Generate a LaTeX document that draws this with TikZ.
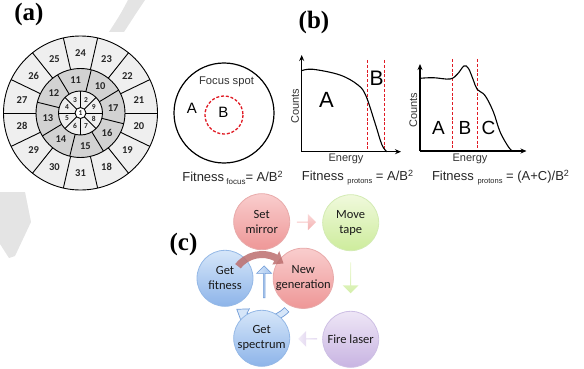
\documentclass[tikz,border=0pt]{standalone}
\usepackage{fontspec}
\setmainfont{Liberation Sans}
\newfontfamily\tnr{Liberation Serif}
\newfontfamily\calib{Carlito}
\usetikzlibrary{calc,arrows.meta,shapes.arrows}
\definecolor{wm}{HTML}{E4E4E4}
\definecolor{wlight}{HTML}{EFEFEF}
\definecolor{wdark}{HTML}{D2D2D2}
\definecolor{rdc}{HTML}{E01B24}
\definecolor{pinkT}{HTML}{F9CDCD}
\definecolor{pinkB}{HTML}{EE9797}
\definecolor{pinkD}{HTML}{E8AAAA}
\definecolor{grnT}{HTML}{F0F9DC}
\definecolor{grnB}{HTML}{CDEC9C}
\definecolor{grnD}{HTML}{D3EBB3}
\definecolor{purT}{HTML}{EEE6F6}
\definecolor{purB}{HTML}{C8B4E2}
\definecolor{purD}{HTML}{CDBFE4}
\definecolor{bluT}{HTML}{D6E6F9}
\definecolor{bluB}{HTML}{8DB4E9}
\definecolor{bluD}{HTML}{94B8E6}
\definecolor{bluO}{HTML}{6E9AD6}
\definecolor{redarc}{HTML}{BC6E6E}
\begin{document}
\begin{tikzpicture}[x=1pt,y=-1pt,
  wline/.style={line width=0.9pt, black},
  wnum/.style={font=\calib\bfseries\fontsize{10.5}{10.5}\selectfont, inner sep=0pt, text=black!85},
  wsm/.style={font=\calib\bfseries\fontsize{7.5}{7.5}\selectfont, inner sep=0pt, text=black!85},
  plabel/.style={font=\tnr\bfseries\fontsize{25}{25}\selectfont, inner sep=0pt},
  axisline/.style={line width=1.2pt, -{Stealth[length=6pt,width=5pt]}},
  crv/.style={line width=1.1pt},
  rdash/.style={draw=rdc, line width=1.3pt, dash pattern=on 3pt off 1.8pt},
  axlab/.style={font=\fontsize{11}{11}\selectfont, inner sep=0pt, text=black!80},
  bigl/.style={font=\fontsize{22}{22}\selectfont, inner sep=0pt},
  midl/.style={font=\fontsize{15}{15}\selectfont, inner sep=0pt},
  fitl/.style={font=\fontsize{13}{13}\selectfont, inner sep=0pt, text=black!85},
  cc/.style={circle, minimum size=56pt, inner sep=0pt, align=center, font=\calib\fontsize{12.5}{15}\selectfont, text=black!90, line width=0.8pt},
  pinkc/.style={cc, draw=pinkD, top color=pinkT, bottom color=pinkB},
  grnc/.style={cc, draw=grnD, top color=grnT, bottom color=grnB},
  purc/.style={cc, draw=purD, top color=purT, bottom color=purB},
  bluc/.style={cc, draw=bluD, top color=bluT, bottom color=bluB},
  blk/.style={single arrow, inner sep=0pt, single arrow head extend=3pt, minimum width=16pt}
]
\useasboundingbox (0,0) rectangle (584,369);
% watermark
\fill[wm] (128,0) -- (145,0) .. controls (137,12) .. (124,32) -- (109,32) .. controls (120,15) .. (128,0) -- cycle;
\fill[wm] (0,192) -- (25,192) -- (31,222) -- (15,256) -- (9,258) -- (0,244) -- cycle;

% ---------- (a)
\node[plabel] (la) at (29,14) {(a)};
\coordinate (W) at (80.5,113);
\fill[wlight] (W) circle[radius=77];
\fill[wdark] (W) circle[radius=44.5];
\fill[wlight] (W) circle[radius=22];
\foreach \k in {0,...,13} {\draw[wline] ($(W)+(\k*360/14:44.5)$) -- ($(W)+(\k*360/14:77)$);}
\foreach \k in {0,...,7} {\draw[wline] ($(W)+(14+\k*45:22)$) -- ($(W)+(14+\k*45:44.5)$);}
\foreach \k in {0,...,7} {\draw[wline] ($(W)+(\k*45:5.5)$) -- ($(W)+(\k*45:22)$);}
\draw[wline] (W) circle[radius=77];
\draw[wline] (W) circle[radius=44.5];
\draw[wline] (W) circle[radius=22];
\node[wsm, circle, draw, fill=white, line width=0.9pt, minimum size=11pt] (w1) at (W) {1};
\foreach \n [count=\i from 0] in {21,22,23,24,25,26,27,28,29,30,31,18,19,20}
  {\node[wnum] (w\n) at ($(W)+(-12.857-\i*25.714:60)$) {\n};}
\foreach \n [count=\i from 0] in {17,10,11,12,13,14,15,16}
  {\node[wnum] (w\n) at ($(W)+(-8.5-\i*45:33)$) {\n};}
\foreach \n [count=\i from 0] in {9,2,3,4,5,6,7,8}
  {\node[wsm] (w\n) at ($(W)+(-22.5-\i*45:14.5)$) {\n};}

% ---------- (b)
\node[plabel] (lb) at (314,22) {(b)};
% focus
\coordinate (F) at (224,113);
\draw[line width=1.2pt] (F) circle[radius=50];
\draw[rdash] (224,115) circle[radius=19];
\node[font=\fontsize{11.2}{11.2}\selectfont, inner sep=0pt, text=black!80] (fs) at (226.5,82) {Focus spot};
\node[midl] (fA) at (192,108) {A};
\node[midl] (fB) at (223.5,112) {B};
\node[fitl] (fit1) at (232.5,177.5) {Fitness\,\raisebox{-2.5pt}{\fontsize{8}{8}\selectfont focus}= A/B\raisebox{4.5pt}{\fontsize{9}{9}\selectfont 2}};
% graph 1
\coordinate (g1o) at (301.7,151.7);
\coordinate (g1y) at (301.7,55);
\coordinate (g1x) at (401,151.7);
\draw[rdash] (367.7,60) -- (367.7,151.7);
\draw[rdash] (384.3,60) -- (384.3,151.7);
\draw[crv] plot[smooth, tension=0.6] coordinates {(301.7,70.7) (313,69.3) (340,75) (358,85) (366,96) (375,123) (382,145) (387,151.7)};
\draw[axisline] (g1o) -- (g1y);
\draw[axisline] (g1o) -- (g1x);
\node[axlab, rotate=90] (c1) at (295,106.5) {Counts};
\node[axlab] (e1) at (346,158.5) {Energy};
\node[bigl] (g1A) at (326.5,99.5) {A};
\node[bigl, font=\fontsize{21}{21}\selectfont] (g1B) at (376.5,78.5) {B};
\node[fitl] (fit2) at (357.5,177.5) {Fitness \raisebox{-3pt}{\fontsize{7.5}{7.5}\selectfont protons} = A/B\raisebox{4.5pt}{\fontsize{9}{9}\selectfont 2}};
% graph 2
\coordinate (g2o) at (420,151);
\coordinate (g2y) at (420,64);
\coordinate (g2x) at (526.5,151);
\draw[rdash] (452.7,59) -- (452.7,151);
\draw[rdash] (477.3,59) -- (477.3,151);
\draw[crv] plot[smooth, tension=0.6] coordinates {(420,78.3) (433.3,77.7) (450,79) (457.5,74) (464,66) (468.5,68.5) (473.3,80) (477.3,89.5) (485,95.5) (493.3,111.7) (500,131.7) (508.3,146.7) (512.5,151)};
\draw[axisline] (g2o) -- (g2y);
\draw[axisline] (g2o) -- (g2x);
\node[axlab, rotate=90] (c2) at (413.3,110) {Counts};
\node[axlab] (e2) at (470,158.5) {Energy};
\node[bigl, font=\fontsize{19}{19}\selectfont] (g2A) at (438.5,128.3) {A};
\node[bigl, font=\fontsize{19}{19}\selectfont] (g2B) at (465,128.3) {B};
\node[bigl, font=\fontsize{19}{19}\selectfont] (g2C) at (488.5,128.3) {C};
\node[fitl] (fit3) at (500.5,177.5) {Fitness \raisebox{-3pt}{\fontsize{7.5}{7.5}\selectfont protons} = (A+C)/B\raisebox{4.5pt}{\fontsize{9}{9}\selectfont 2}};

% ---------- (c)
\node[plabel] (lc) at (183.5,244) {(c)};
\coordinate (L) at (262,285);
% blue curved arrow (behind)
\filldraw[fill=bluT, draw=bluO, line width=0.7pt]
  ($(L)+(45:38)$) arc[start angle=45, end angle=118, radius=38]
  -- ($(L)+(118:43)$) -- ($(L)+(136:35)$) -- ($(L)+(118:27)$) -- ($(L)+(118:32)$)
  arc[start angle=118, end angle=45, radius=32] -- cycle;
\node[pinkc] (set) at (261.7,221.7) {Set\\mirror};
\node[grnc] (move) at (350.7,222.7) {Move\\tape};
\node[pinkc, minimum size=58pt] (new) at (303.3,278.3) {New\\generation};
\node[bluc] (fitn) at (225,278.3) {Get\\fitness};
\node[bluc] (spec) at (261.7,338.3) {Get\\spectrum};
\node[purc] (fire) at (350.7,339.3) {Fire laser};
% block arrows
\node[blk, minimum height=19pt, top color=pinkT!80!white, bottom color=pinkT!50!pinkB, shape border rotate=0] (a1) at ($(set)!0.5!(move)$) {};
\node[blk, minimum height=31pt, top color=grnT, bottom color=grnB!85!white, shape border rotate=270] (a2) at ($(move)!0.47!(fire)$) {};
\node[blk, minimum height=19pt, left color=purT!80!white, right color=purB!75!white, shape border rotate=180] (a3) at ($(spec)!0.52!(fire)$) {};
\node[blk, minimum height=32pt, minimum width=15pt, single arrow head extend=2.5pt, draw=bluO, line width=0.6pt, left color=bluT, right color=bluB!80!white, shape border rotate=90] (a4) at ($($(fitn)!0.5!(new)$)+(0,4)$) {};
% red curved arrow (front)
\fill[redarc, opacity=0.85]
  ($(L)+(-142:34)$) arc[start angle=-142, end angle=-63, radius=34]
  -- ($(L)+(-63:38)$) -- ($(L)+(-45:30.5)$) -- ($(L)+(-63:23)$) -- ($(L)+(-63:27)$)
  arc[start angle=-63, end angle=-142, radius=27] -- cycle;
\end{tikzpicture}
\end{document}
